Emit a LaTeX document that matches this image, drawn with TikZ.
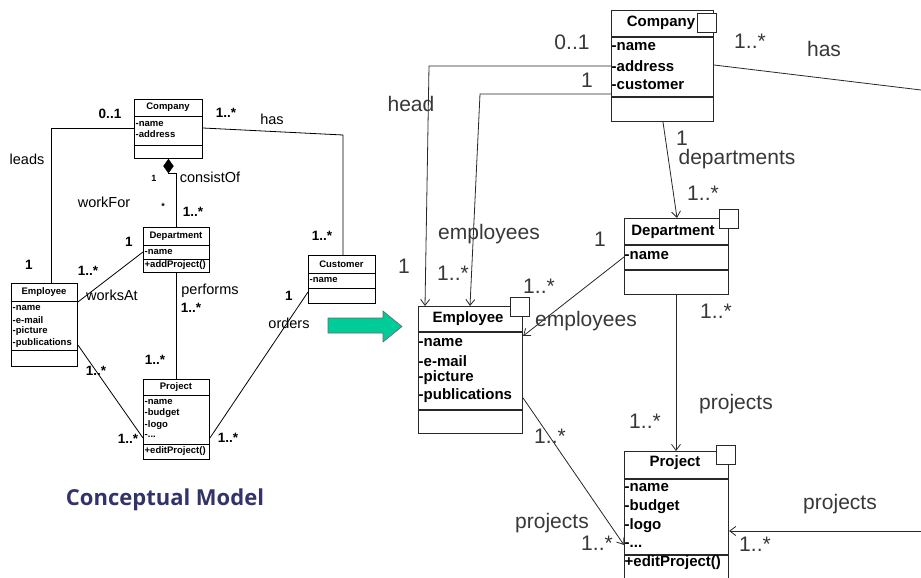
\documentclass[tikz,border=0pt]{standalone}
\usepackage{fontspec}
\setmainfont{Liberation Sans}
\newfontfamily\titlefont{Open Sans}
\usetikzlibrary{shapes.geometric,arrows.meta,calc}
\definecolor{arrowgreen}{RGB}{0,204,153}
\definecolor{titleblue}{RGB}{51,51,107}
\definecolor{rline}{RGB}{40,40,40}
\tikzset{
  lab/.style={inner sep=0pt, text height=0.72em, text depth=0pt},
  lLab/.style={lab, font=\fontsize{14.5}{15}\selectfont},
  lMul/.style={lab, font=\fontsize{13.5}{14}\selectfont\bfseries},
  lSmall/.style={lab, font=\fontsize{9}{10}\selectfont\bfseries},
  lCls/.style={inner sep=0pt, font=\fontsize{9.5}{10}\selectfont\bfseries},
  lAttr/.style={lCls, anchor=west},
  lBox/.style={draw, line width=0.9pt, anchor=north west, inner sep=0pt},
  lLine/.style={line width=0.8pt},
  rLab/.style={lab, font=\fontsize{21}{22}\selectfont, text=black!78},
  rCls/.style={inner sep=0pt, font=\fontsize{15}{16}\selectfont\bfseries},
  rAttr/.style={rCls, anchor=west},
  rBox/.style={draw=rline, line width=1.1pt, anchor=north west, inner sep=0pt},
  rSq/.style={draw=rline, line width=1.1pt, fill=white, anchor=north west, inner sep=0pt, minimum width=19, minimum height=19},
  rLine/.style={draw=rline, line width=0.8pt},
  rArr/.style={rLine, -{Straight Barb[length=6pt,width=9pt]}},
}
\begin{document}
\begin{tikzpicture}[x=1pt,y=-1pt]
\useasboundingbox (0,0) rectangle (921,578);
\clip (0,0) rectangle (921,578);
\fill[white] (0,0) rectangle (921,578);

% ---------------- conceptual model (left) ----------------
% classes
\node[lBox, minimum width=68, minimum height=59] (lCompany) at (134,99) {};
\draw[line width=0.9pt] (134,116) -- (202,116) (134,145) -- (202,145);
\node[lCls] (lCompanyT) at (168,107.5) {Company};
\node[lAttr] (lCompanyA1) at (135.5,124) {-name};
\node[lAttr] (lCompanyA2) at (135.5,134) {-address};

\node[lBox, minimum width=66, minimum height=45] (lDept) at (143,227) {};
\draw[line width=0.9pt] (143,245) -- (209,245) (143,259) -- (209,259);
\node[lCls] (lDeptT) at (176,236) {Department};
\node[lAttr] (lDeptA1) at (144.5,252) {-name};
\node[lAttr] (lDeptO1) at (144.5,265.5) {+addProject()};

\node[lBox, minimum width=66, minimum height=83] (lEmp) at (11,283) {};
\draw[line width=0.9pt] (11,301) -- (77,301) (11,350) -- (77,350);
\node[lCls] (lEmpT) at (44,292) {Employee};
\node[lAttr] (lEmpA1) at (12.5,308) {-name};
\node[lAttr] (lEmpA2) at (12.5,320) {-e-mail};
\node[lAttr] (lEmpA3) at (12.5,331.5) {-picture};
\node[lAttr] (lEmpA4) at (12.5,343) {-publications};

\node[lBox, minimum width=66, minimum height=80] (lProj) at (143,379) {};
\draw[line width=0.9pt] (143,395) -- (209,395) (143,444) -- (209,444);
\node[lCls] (lProjT) at (176,387) {Project};
\node[lAttr] (lProjA1) at (144.5,402) {-name};
\node[lAttr] (lProjA2) at (144.5,413.5) {-budget};
\node[lAttr] (lProjA3) at (144.5,425) {-logo};
\node[lAttr] (lProjA4) at (144.5,436) {-...};
\node[lAttr] (lProjO1) at (144.5,451) {+editProject()};

\node[lBox, minimum width=67, minimum height=48] (lCust) at (308,255) {};
\draw[line width=0.9pt] (308,273) -- (375,273) (308,288) -- (375,288);
\node[lCls] (lCustT) at (341.5,264) {Customer};
\node[lAttr] (lCustA1) at (309.5,280) {-name};

% composition diamond under Company
\node[diamond, fill=black, draw=black, inner sep=0pt, minimum width=10, minimum height=14, anchor=north] (diam) at (lCompany.south) {};

% associations
\coordinate (hasBend) at (343,135);
\draw[lLine] ([yshift=-29pt]lCompany.north west) -| ([xshift=40pt]lEmp.north west);
\draw[lLine] ([yshift=-29pt]lCompany.north east) -- (hasBend) -- (hasBend |- lCust.north);
\draw[lLine] (diam.south) -| (lDept.north);
\draw[lLine] ([yshift=-19pt]lEmp.north east) -- ([yshift=-25pt]lDept.north west);
\draw[lLine] (lDept.south) -- (lProj.north);
\draw[lLine] ([yshift=-62pt]lEmp.north east) -- ([yshift=-59pt]lProj.north west);
\draw[lLine] ([yshift=-37pt]lCust.north west) -- ([yshift=-59pt]lProj.north east);

% association labels
\node[lMul] (lm1) at (110,115) {0..1};
\node[lLab] (ll1) at (27,161) {leads};
\node[lMul] (lm2) at (29,266) {1};
\node[lMul] (lm3) at (226,114) {1..*};
\node[lLab] (ll2) at (272,121) {has};
\node[lSmall] (lm4) at (154,178) {1};
\node[lLab] (ll3) at (210,179) {consistOf};
\node[lLab] (ll4) at (104,204) {workFor};
\node[lSmall] (lm5) at (163,206) {*};
\node[lMul] (lm6) at (193,213) {1..*};
\node[lMul] (lm7) at (129,243) {1};
\node[lMul] (lm8) at (88,272) {1..*};
\node[lLab] (ll5) at (112,297) {worksAt};
\node[lMul] (lm9) at (322,237) {1..*};
\node[lMul] (lm10) at (289,297) {1};
\node[lLab] (ll6) at (289,325) {orders};
\node[lLab] (ll7) at (210,291) {performs};
\node[lMul] (lm11) at (191,309) {1..*};
\node[lMul] (lm12) at (155,361) {1..*};
\node[lMul] (lm13) at (96,372) {1..*};
\node[lMul] (lm14) at (128,440) {1..*};
\node[lMul] (lm15) at (228,439) {1..*};

\node[inner sep=0pt, text=titleblue, font=\titlefont\fontsize{22}{24}\selectfont\bfseries] (title) at (165,500) {Conceptual Model};

% transformation arrow
\filldraw[fill=arrowgreen, draw=black!60, line width=0.6pt]
  (328,318) -- (383,318) -- (383,311) -- (402,326.5) -- (383,342) -- (383,333) -- (328,333) -- cycle;

% ---------------- design model (right) ----------------
\node[rBox, minimum width=102, minimum height=111] (rCompany) at (611,10) {};
\draw[rline, line width=1.1pt] (611,37) -- (713,37) (611,97) -- (713,97);
\node[rSq] (rCompanySq) at (697,13) {};
\node[rCls] (rCompanyT) at (661,23) {Company};
\node[rAttr] (rCompanyA1) at (611.5,47) {-name};
\node[rAttr] (rCompanyA2) at (611.5,66) {-address};
\node[rAttr] (rCompanyA3) at (611.5,85) {-customer};

\node[rBox, minimum width=104, minimum height=127] (rEmp) at (418,306) {};
\draw[rline, line width=1.1pt] (418,332) -- (522,332) (418,410) -- (522,410);
\node[rSq] (rEmpSq) at (510,297) {};
\node[rCls] (rEmpT) at (468,319) {Employee};
\node[rAttr] (rEmpA1) at (418.5,343) {-name};
\node[rAttr] (rEmpA2) at (418.5,361) {-e-mail};
\node[rAttr] (rEmpA3) at (418.5,378) {-picture};
\node[rAttr] (rEmpA4) at (418.5,396) {-publications};

\node[rBox, minimum width=104, minimum height=76] (rDept) at (624,218) {};
\draw[rline, line width=1.1pt] (624,245) -- (728,245) (624,270) -- (728,270);
\node[rSq] (rDeptSq) at (719,209) {};
\node[rCls] (rDeptT) at (673,232) {Department};
\node[rAttr] (rDeptA1) at (624.5,256) {-name};

\node[rBox, minimum width=104, minimum height=131] (rProj) at (624,451) {};
\draw[rline, line width=1.1pt] (624,479) -- (728,479) (624,555) -- (728,555);
\node[rSq] (rProjSq) at (716,445) {};
\node[rCls] (rProjT) at (675,463) {Project};
\node[rAttr] (rProjA1) at (624.5,488) {-name};
\node[rAttr] (rProjA2) at (624.5,507) {-budget};
\node[rAttr] (rProjA3) at (624.5,526) {-logo};
\node[rAttr] (rProjA4) at (624.5,545) {-...};
\node[rAttr] (rProjO1) at (624.5,563) {+editProject()};

% references between classes
\coordinate (headBend) at (429,66);
\coordinate (empBend) at (480,94);
\coordinate (hasEnd) at (921,90);
\coordinate (projStart) at (921,531);
\draw[rArr] ([yshift=-56pt]rCompany.north west) -- (headBend) -- ([xshift=7pt]rEmp.north west);
\draw[rArr] ([yshift=-84pt]rCompany.north west) -- (empBend) -- ([xshift=52pt]rEmp.north west);
\draw[rArr] ([xshift=52pt]rCompany.south west) -- ([xshift=53pt]rDept.north west);
\draw[rArr] ([yshift=-39pt]rDept.north west) -- ([yshift=-30pt]rEmp.north east);
\draw[rArr] ([xshift=52pt]rDept.south west) -- ([xshift=52pt]rProj.north west);
\draw[rArr] ([yshift=-92pt]rEmp.north east) -- ([yshift=-94pt]rProj.north west);
\draw[rLine] ([yshift=-55pt]rCompany.north east) -- (hasEnd);
\draw[rArr] (projStart) -- ([yshift=-80pt]rProj.north east);

% reference labels
\node[rLab] (rm1) at (572,46) {0..1};
\node[rLab] (rm2) at (587,84) {1};
\node[rLab] (rl1) at (411,108) {head};
\node[rLab] (rl2) at (489,236) {employees};
\node[rLab] (rm3) at (404,270) {1};
\node[rLab] (rm4) at (453,277) {1..*};
\node[rLab] (rm5) at (539,290) {1..*};
\node[rLab] (rl3) at (586,323) {employees};
\node[rLab] (rm6) at (600,243) {1};
\node[rLab] (rm7) at (682,142) {1};
\node[rLab] (rl4) at (737,161) {departments};
\node[rLab] (rm8) at (703,197) {1..*};
\node[rLab] (rm9) at (716,315) {1..*};
\node[rLab] (rm10) at (750,45) {1..*};
\node[rLab] (rl5) at (824,53) {has};
\node[rLab] (rl6) at (736,406) {projects};
\node[rLab] (rm11) at (645,425) {1..*};
\node[rLab] (rm12) at (550,440) {1..*};
\node[rLab] (rl7) at (552,525) {projects};
\node[rLab] (rm13) at (597,547) {1..*};
\node[rLab] (rl8) at (840,506) {projects};
\node[rLab] (rm14) at (755,548) {1..*};
\end{tikzpicture}
\end{document}
